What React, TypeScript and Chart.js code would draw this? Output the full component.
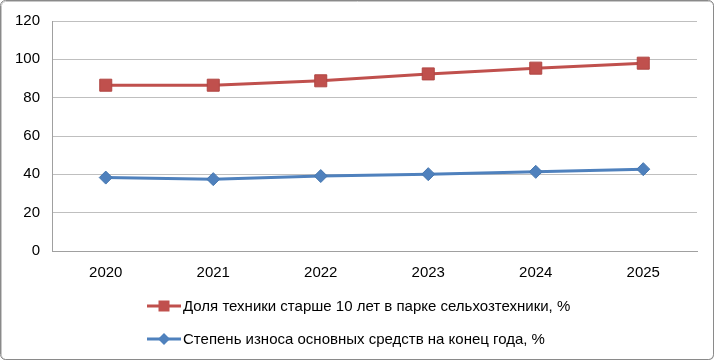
import React, { useEffect, useRef } from "react";
import { Chart, registerables } from "chart.js";

Chart.register(...registerables);

const years = ["2020", "2021", "2022", "2023", "2024", "2025"];
const oldMachineryShare = [86.5, 86.5, 88.8, 92.4, 95.4, 98.0];
const depreciationRate = [38.3, 37.5, 39.1, 40.1, 41.3, 42.7];
const seriesNames = [
  "Доля техники старше 10 лет в парке сельхозтехники, %",
  "Степень износа основных средств на конец года, %",
];
const yTicks = [0, 20, 40, 60, 80, 100, 120];

const RED = "#C0504D";
const BLUE = "#4F81BD";
const FONT = "'Liberation Sans', Arial, sans-serif";

const frame = {
  id: "frame",
  beforeDraw(chart: any) {
    const ctx = chart.ctx;
    const w = chart.width;
    const h = chart.height;
    ctx.save();
    ctx.fillStyle = "#ffffff";
    ctx.fillRect(0, 0, w, h);
    ctx.strokeStyle = "#c8c8c8";
    ctx.lineWidth = 1;
    ctx.beginPath();
    ctx.roundRect(1.5, 1.5, w - 3, h - 3, 4);
    ctx.stroke();
    ctx.strokeStyle = "#8a8a8a";
    ctx.beginPath();
    ctx.roundRect(0.5, 0.5, w - 2, h - 2, 5);
    ctx.stroke();
    ctx.restore();
  },
};

const legendPlugin = {
  id: "vlegend",
  afterDraw(chart: any) {
    const ctx = chart.ctx;
    const x0 = 147;
    const rows = [306, 339];
    ctx.save();
    chart.data.datasets.forEach((ds: any, i: number) => {
      const y = rows[i];
      ctx.strokeStyle = ds.borderColor;
      ctx.lineWidth = 3;
      ctx.beginPath();
      ctx.moveTo(x0, y);
      ctx.lineTo(x0 + 34, y);
      ctx.stroke();
      ctx.fillStyle = ds.borderColor;
      const cx = x0 + 17;
      ctx.beginPath();
      if (ds.pointStyle === "rect") {
        ctx.rect(cx - 5.5, y - 5.5, 11, 11);
      } else {
        ctx.moveTo(cx, y - 6);
        ctx.lineTo(cx + 6, y);
        ctx.lineTo(cx, y + 6);
        ctx.lineTo(cx - 6, y);
        ctx.closePath();
      }
      ctx.fill();
      ctx.fillStyle = "#000000";
      ctx.font = "15px " + FONT;
      ctx.textBaseline = "middle";
      ctx.textAlign = "left";
      ctx.fillText(ds.label, x0 + 36, y + 1);
    });
    ctx.restore();
  },
};

export default function App() {
  const ref = useRef<HTMLCanvasElement>(null);
  useEffect(() => {
    document.body.style.margin = "0";
    const chart = new Chart(ref.current!, {
      type: "line",
      data: {
        labels: years,
        datasets: [
          {
            label: seriesNames[0],
            data: oldMachineryShare,
            borderColor: RED,
            backgroundColor: RED,
            borderWidth: 3,
            pointStyle: "rect",
            pointRadius: 8.5,
            pointBorderWidth: 1,
            pointBorderColor: "#b04643",
            tension: 0,
          },
          {
            label: seriesNames[1],
            data: depreciationRate,
            borderColor: BLUE,
            backgroundColor: BLUE,
            borderWidth: 3,
            pointStyle: "rectRot",
            pointRadius: 6.5,
            pointBorderWidth: 1,
            pointBorderColor: "#4677b0",
            tension: 0,
          },
        ],
      },
      options: {
        animation: false,
        responsive: false,
        devicePixelRatio: 1,
        layout: { padding: { left: 0, top: 19, right: 18, bottom: 70 } },
        plugins: { legend: { display: false }, tooltip: { enabled: false } },
        scales: {
          x: {
            offset: true,
            grid: { display: false, drawTicks: false },
            border: { display: true, color: "#a0a0a0", width: 1 },
            ticks: { color: "#000", font: { family: FONT, size: 15 }, padding: 13 },
            afterFit: (s: any) => {
              s.height = 40;
            },
          },
          y: {
            min: 0,
            max: 120,
            afterBuildTicks: (s: any) => {
              s.ticks = yTicks.map((v) => ({ value: v }));
            },
            grid: { color: "#bfbfbf", drawTicks: false, lineWidth: 1 },
            border: { display: true, color: "#a0a0a0", width: 1 },
            ticks: { color: "#000", font: { family: FONT, size: 15 }, padding: 12 },
            afterFit: (s: any) => {
              s.width = 52;
            },
          },
        },
      },
      plugins: [frame, legendPlugin],
    });
    return () => chart.destroy();
  }, []);
  return (
    <div style={{ width: 715, height: 361 }}>
      <canvas ref={ref} width={715} height={361} style={{ display: "block" }} />
    </div>
  );
}
